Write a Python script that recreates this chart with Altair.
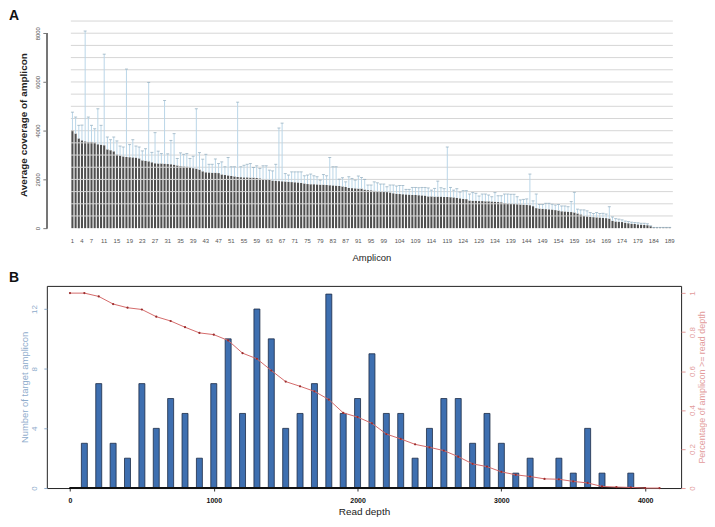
import altair as alt
import pandas as pd

FONT = "Liberation Sans"

# ---------------- Panel A data ----------------
amplicon_mean = [
    4030, 3880, 3680, 3600, 3560, 3540, 3540, 3520, 3440, 3420,
    3400, 3230, 3200, 3150, 3020, 2980, 2940, 2920, 2910, 2900,
    2890, 2860, 2780, 2760, 2740, 2700, 2660, 2650, 2650, 2640,
    2630, 2620, 2600, 2570, 2540, 2530, 2520, 2500, 2460, 2440,
    2400, 2330, 2290, 2280, 2270, 2270, 2260, 2200, 2180, 2160,
    2140, 2120, 2100, 2090, 2080, 2080, 2070, 2070, 2060, 2040,
    2010, 2000, 1980, 1950, 1940, 1930, 1920, 1910, 1900, 1890,
    1880, 1870, 1850, 1830, 1810, 1800, 1800, 1790, 1780, 1780,
    1770, 1760, 1750, 1740, 1730, 1710, 1690, 1650, 1640, 1630,
    1620, 1620, 1580, 1560, 1550, 1530, 1510, 1500, 1490, 1480,
    1460, 1430, 1410, 1400, 1390, 1380, 1370, 1360, 1360, 1350,
    1340, 1330, 1300, 1300, 1290, 1290, 1290, 1280, 1280, 1270,
    1260, 1240, 1220, 1200, 1190, 1130, 1120, 1120, 1110, 1110,
    1100, 1100, 1090, 1080, 1070, 1060, 1030, 1010, 1000, 990,
    980, 970, 960, 950, 940, 900, 820, 800, 790, 780,
    770, 760, 740, 720, 690, 680, 670, 660, 640, 600,
    560, 500, 480, 460, 450, 440, 430, 420, 410, 390,
    300, 270, 260, 250, 220, 200, 180, 170, 150, 140,
    130, 120, 80, 30, 25, 25, 25, 25, 25,
]
amplicon_upper = [
    4760, 4560, 4220, 4230, 8090, 4560, 4220, 4080, 4900, 4220,
    7140, 3740, 3630, 3740, 3580, 3370, 3330, 6530, 3430, 3630,
    3370, 3330, 3170, 3260, 5980, 3110, 3920, 3160, 3060, 5240,
    3050, 3600, 3880, 2860, 3090, 3030, 3060, 2860, 2950, 4900,
    3100, 2830, 3030, 2620, 2620, 2840, 2650, 2720, 2520, 2900,
    2520, 2520, 5170, 2520, 2580, 2620, 2650, 2490, 2560, 2450,
    2560, 2560, 2380, 2350, 2620, 4110, 4310, 2240, 2180, 2310,
    2310, 2310, 2310, 2150, 2180, 2220, 2150, 2110, 1970, 2200,
    2150, 2900, 2520, 2520, 2010, 2070, 1900, 2110, 2040, 1970,
    2140, 2080, 2000, 1770, 1770, 1900, 1860, 1810, 1810, 1700,
    1770, 1770, 1730, 1750, 1750, 1590, 1590, 1670, 1670, 1660,
    1670, 1670, 1650, 1560, 1630, 1930, 1660, 1620, 3330, 1670,
    1560, 1620, 1480, 1540, 1540, 1400, 1460, 1430, 1320, 1400,
    1400, 1360, 1290, 1460, 1330, 1330, 1400, 1400, 1390, 1390,
    1290, 1160, 1180, 1200, 2220, 1120, 1400, 970, 970, 1020,
    1020, 980, 950, 970, 910, 910, 880, 1090, 1470, 780,
    750, 750, 710, 640, 600, 640, 600, 610, 580, 880,
    460, 390, 370, 340, 290, 270, 245, 230, 220, 200,
    200, 180, 95, 30, 30, 30, 30, 30, 30,
]
amplicon_ids = list(range(1, len(amplicon_mean) + 1))
x_label_values = [1, 4, 7, 11, 15, 19, 23, 27, 31, 35, 39, 43, 47, 51, 55, 59, 63,
                  67, 71, 75, 79, 83, 87, 91, 95, 99, 104, 109, 114, 119, 124, 129,
                  134, 139, 144, 149, 154, 159, 164, 169, 174, 179, 184, 189]
y_tick_values_a = [0, 2000, 4000, 6000, 8000]
grid_values_a = [500, 1000, 1500, 2000, 2500, 3000, 3500, 4000, 4500, 5000,
                 5500, 6000, 6500, 7000, 7500, 8000, 8500]

# ---------------- Panel B data ----------------
depth_bins = [100, 200, 300, 400, 500, 600, 700, 800, 900, 1000,
              1100, 1200, 1300, 1400, 1500, 1600, 1700, 1800, 1900, 2000,
              2100, 2200, 2300, 2400, 2500, 2600, 2700, 2800, 2900, 3000,
              3100, 3200, 3300, 3400, 3500, 3600, 3700, 3800, 3900]
target_counts = [3, 7, 3, 2, 7, 4, 6, 5, 2, 7,
                 10, 5, 12, 10, 4, 5, 7, 13, 5, 6,
                 9, 5, 5, 2, 4, 6, 6, 3, 5, 3,
                 1, 2, 0, 2, 1, 4, 1, 0, 1]
curve_depth = [0, 100, 200, 300, 400, 500, 600, 700, 800, 900,
               1000, 1100, 1200, 1300, 1400, 1500, 1600, 1700, 1800, 1900,
               2000, 2100, 2200, 2300, 2400, 2500, 2600, 2700, 2800, 2900,
               3000, 3100, 3200, 3300, 3400, 3500, 3600, 3700, 3800, 3900,
               4000, 4100]
curve_pct = [1.0, 1.0, 0.983, 0.944, 0.925, 0.916, 0.879, 0.857, 0.825, 0.796,
             0.787, 0.757, 0.692, 0.663, 0.603, 0.546, 0.522, 0.496, 0.454, 0.386,
             0.364, 0.332, 0.277, 0.252, 0.224, 0.209, 0.192, 0.161, 0.124, 0.110,
             0.083, 0.068, 0.059, 0.047, 0.045, 0.034, 0.026, 0.008, 0.005, 0.003,
             0.0, 0.0]
x_tick_values_b = [0, 1000, 2000, 3000, 4000]
left_tick_values_b = [0, 2, 4, 6, 8, 10, 12]
right_tick_values_b = [0, 0.2, 0.4, 0.6, 0.8, 1]
panel_letters = ["A", "B"]

dfA = pd.DataFrame({"amplicon": amplicon_ids, "mean": amplicon_mean, "upper": amplicon_upper})
dfGrid = pd.DataFrame({"g": grid_values_a})
dfLab = pd.DataFrame({"lab": x_label_values, "txt": [str(v) for v in x_label_values]})
dfB = pd.DataFrame({"depth": depth_bins, "count": target_counts})
dfC = pd.DataFrame({"depth": curve_depth, "pct": curve_pct})

WA = 637
HA = 208
WB = 637
HB = 203
LETTER_X = -38

# ---------------- Panel A ----------------
TITLE_A = "Average coverage of amplicon"
xscaleA = alt.Scale(domain=[-7.06, 192.6], nice=False, zero=False, padding=0)
yscaleA = alt.Scale(domain=[0, 8500], nice=False, padding=0)
xaxisA = alt.Axis(title="Amplicon", grid=False, domain=False, labels=False,
                  ticks=False, tickSize=0,
                  titleFontSize=9.5, titleFontWeight="normal", titleColor="#222222",
                  titlePadding=24, titleX=326)
yaxisA = alt.Axis(values=y_tick_values_a, title=TITLE_A, grid=False, domain=False,
                  tickSize=4, tickColor="#777777", labelAngle=-90, labelAlign="center",
                  labelBaseline="bottom", labelPadding=2, labelFontSize=6, format="d",
                  labelColor="#555555", titleFontSize=10, titleFontWeight="bold",
                  titleColor="#222222", titlePadding=6)


def xa(field):
    return alt.X(field, scale=xscaleA, axis=xaxisA, title="Amplicon")


def ya(field):
    return alt.Y(field, scale=yscaleA, axis=yaxisA, title=TITLE_A)


barsA = alt.Chart(dfA).mark_bar(width=2.1, color="#4f4f4f").encode(
    x=xa("amplicon:Q"), y=ya("mean:Q"))
gridA = alt.Chart(dfGrid).mark_rule(color="#d6d6d6", strokeWidth=1).encode(
    y=ya("g:Q"), x=alt.datum(0.5), x2=alt.datum(190))
errA = alt.Chart(dfA).mark_rule(color="#b9d6e8", strokeWidth=1).encode(
    x=xa("amplicon:Q"), y=ya("mean:Q"), y2="upper:Q")
capA = alt.Chart(dfA).mark_tick(orient="horizontal", size=3, thickness=1,
                                color="#8fa9ba").encode(
    x=xa("amplicon:Q"), y=ya("upper:Q"))
axisLineA = alt.Chart(dfGrid).mark_rule(color="#777777", strokeWidth=1).encode(
    x=alt.value(0), y=alt.datum(0), y2=alt.datum(8000))
labelsA = alt.Chart(dfLab).mark_text(fontSize=6, color="#555555", baseline="middle",
                                     align="center").encode(
    x=xa("lab:Q"), y=alt.value(HA + 13), text="txt:N")
letterA = alt.Chart(pd.DataFrame({"t": [panel_letters[0]]})).mark_text(
    align="left", baseline="top", fontSize=14, fontWeight="bold", color="#111111").encode(
    x=alt.value(LETTER_X), y=alt.value(-12), text="t:N")

panelA = alt.layer(barsA, gridA, errA, capA, axisLineA, labelsA, letterA).properties(
    width=WA, height=HA)

# ---------------- Panel B ----------------
LEFT_C = "#8eabcb"
RIGHT_C = "#e29b9b"
xscaleB = alt.Scale(domain=[-161, 4250], nice=False, zero=False, padding=0)
xaxisB = alt.Axis(values=x_tick_values_b, title="Read depth", grid=False, domain=False,
                  tickSize=3, tickColor="#333333", labelFontSize=7, labelFontWeight="bold",
                  labelColor="#111111", labelPadding=6, labelFlush=False, format="d",
                  titleFontSize=10, titleFontWeight="normal", titleColor="#222222",
                  titlePadding=3)


def xb(field):
    return alt.X(field, scale=xscaleB, axis=xaxisB, title="Read depth")


yLeft = alt.Y("count:Q", scale=alt.Scale(domain=[0, 13.55], nice=False, padding=0),
              title="Number of target amplicon",
              axis=alt.Axis(orient="left", values=left_tick_values_b, grid=False,
                            domain=False, tickSize=3, tickColor=LEFT_C, format="d",
                            labelAngle=-90, labelAlign="center", labelBaseline="bottom",
                            labelPadding=5, labelFontSize=8, labelColor=LEFT_C,
                            titleFontSize=9.5, titleFontWeight="normal",
                            titleColor=LEFT_C, titlePadding=1))
rightAxis = alt.Axis(orient="right", values=right_tick_values_b, grid=False,
                     domain=False, tickSize=4, tickColor=RIGHT_C, format="~g",
                     labelAngle=-90, labelAlign="center", labelBaseline="top",
                     labelPadding=3, labelFontSize=8, labelColor=RIGHT_C,
                     titleFontSize=9, titleFontWeight="normal", titleAngle=270,
                     titleBaseline="top", titleColor=RIGHT_C, titlePadding=1)
rightScale = alt.Scale(domain=[0, 1.037], nice=False, padding=0)
RIGHT_T = "Percentage of amplicon >= read depth"

barsB = alt.Chart(dfB).mark_bar(size=6, color="#3e6fb0", stroke="#1c2b45",
                                strokeWidth=0.8).encode(x=xb("depth:Q"), y=yLeft)
baseB = alt.Chart(dfB).mark_rule(color="#111111", strokeWidth=2).encode(
    x=alt.datum(0), x2=alt.datum(4000), y=alt.datum(0))
letterB = alt.Chart(pd.DataFrame({"t": [panel_letters[1]]})).mark_text(
    align="left", baseline="top", fontSize=14, fontWeight="bold", color="#111111").encode(
    x=alt.value(LETTER_X), y=alt.value(-15), text="t:N")
leftLayer = alt.layer(barsB, baseB, letterB)

lineB = alt.Chart(dfC).mark_line(color="#d46a6a", strokeWidth=1).encode(
    x=xb("depth:Q"), y=alt.Y("pct:Q", scale=rightScale, axis=rightAxis, title=RIGHT_T))
ptsB = alt.Chart(dfC).mark_point(filled=True, size=5, color="#9b2c2c", opacity=1).encode(
    x=xb("depth:Q"), y=alt.Y("pct:Q", scale=rightScale, axis=rightAxis, title=RIGHT_T))
rightLayer = alt.layer(lineB, ptsB)

panelB = alt.layer(leftLayer, rightLayer).resolve_scale(y="independent").properties(
    width=WB, height=HB,
    view=alt.ViewBackground(stroke="#222222", strokeWidth=1))

chart = alt.vconcat(panelA, panelB, spacing=8).properties(padding=0).configure(
    font=FONT).configure_view(strokeWidth=0)

chart.save("out.html", embed_options={"renderer": "svg", "actions": False})
